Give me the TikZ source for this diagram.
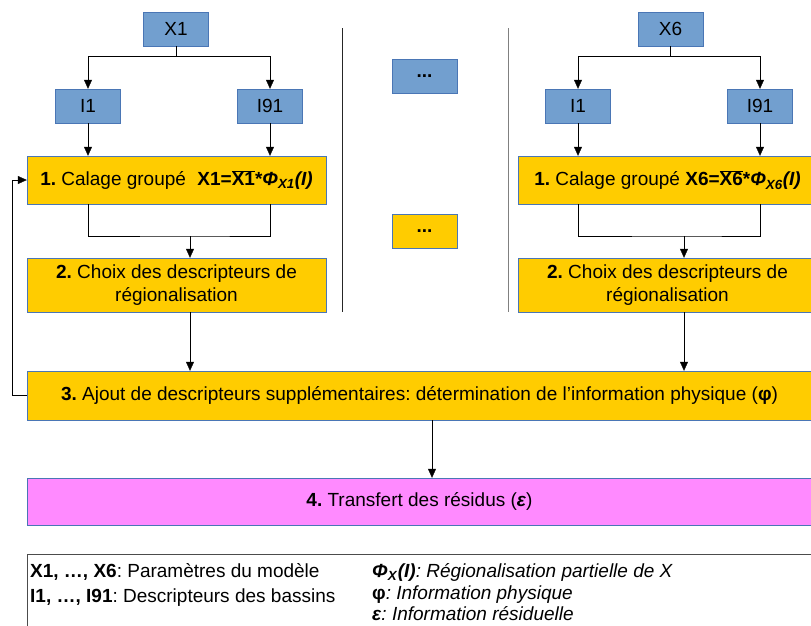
\documentclass[tikz,border=0pt]{standalone}
\usepackage{fontspec}
\setmainfont{Liberation Sans}
\usetikzlibrary{arrows.meta,positioning,calc}
\definecolor{boxblue}{HTML}{729FCF}
\definecolor{boxedge}{HTML}{4A76B5}
\definecolor{boxyellow}{HTML}{FFCC00}
\definecolor{boxpink}{HTML}{FF8AFF}
\newcommand{\PhiSub}[1]{\textit{Φ}\textsubscript{\textit{#1}}\textit{(I)}}
\frenchspacing

\begin{document}
\begin{tikzpicture}[x=1pt, y=-1pt,
  font=\fontsize{19}{23}\selectfont,
  var/.style={draw=boxedge, fill=boxblue, minimum width=65pt, minimum height=34pt, inner sep=0pt},
  stage/.style={draw=boxedge, fill=boxyellow, align=center, inner sep=0pt},
  wide/.style={stage, minimum width=299pt},
  arr/.style={-{Triangle[length=9pt,width=8pt]}, draw=black},
  legend/.style={anchor=base west, inner sep=0pt}
]
\clip (0,0) rectangle (811,625);

% left column
\node[var] (x1) at (176,29) {X1};
\node[var] (i1a) at (88,106) {I1};
\node[var] (i91a) at (270,106) {I91};
\node[wide, minimum height=48pt] (cal1) at (176.5,180) {\textbf{1.} Calage groupé\hspace{0.6em}\textbf{X1=$\overline{\hbox{X1}}$*\PhiSub{X1}}};
\node[wide, minimum height=54pt] (choix1) at (176.5,285) {\textbf{2.} Choix des descripteurs de\\régionalisation};

% right column
\node[var] (x6) at (670.5,29) {X6};
\node[var] (i1b) at (578,106) {I1};
\node[var] (i91b) at (760,106) {I91};
\node[wide, minimum height=48pt] (cal6) at (667.5,180) {\textbf{1.} Calage groupé \textbf{X6=$\overline{\hbox{X6}}$*\PhiSub{X6}}};
\node[wide, minimum height=54pt] (choix6) at (667.5,285) {\textbf{2.} Choix des descripteurs de\\régionalisation};

% middle
\node[var] (dotsb) at (424.5,76.5) {\textbf{...}};
\node[stage, minimum width=65pt, minimum height=34pt] (dotsy) at (424.5,231) {\textbf{...}};
\draw[black!85] (342,28) -- (342,312);
\draw[black!50] (508,28) -- (508,312);

% common steps
\node[stage, minimum width=785pt, minimum height=49pt] (ajout) at (419.5,395.5) {\textbf{3.} Ajout de descripteurs supplémentaires: détermination de l’information physique (\textbf{φ})};
\node[stage, fill=boxpink, minimum width=785pt, minimum height=47pt] (transfert) at (419.5,501.5) {\textbf{4.} Transfert des résidus (\textbf{\textit{ε}})};

\coordinate (m1) at (190,236);
\coordinate (m6) at (684,236);
\coordinate (m3) at (432,450);

\draw (x1.south) -- ++(0,10) coordinate (x1b);
\draw[arr] (x1b) -| (i1a.north);
\draw[arr] (x1b) -| (i91a.north);
\draw[arr] (i1a) -- (i1a |- cal1.north);
\draw[arr] (i91a) -- (i91a |- cal1.north);
\draw (cal1.south -| i1a) |- (m1) -| (cal1.south -| i91a);
\draw[arr] (m1) -- (choix1.north -| m1);
\draw[arr] (choix1.south -| m1) -- (ajout.north -| m1);

\draw (x6.south) -- ++(0,10) coordinate (x6b);
\draw[arr] (x6b) -| (i1b.north);
\draw[arr] (x6b) -| (i91b.north);
\draw[arr] (i1b) -- (i1b |- cal6.north);
\draw[arr] (i91b) -- (i91b |- cal6.north);
\draw (cal6.south -| i1b) |- (m6) -| (cal6.south -| i91b);
\draw[arr] (m6) -- (choix6.north -| m6);
\draw[arr] (choix6.south -| m6) -- (ajout.north -| m6);

\draw[arr] (ajout.west) -- ++(-15,0) |- (cal1.west);
\draw[arr] (ajout.south -| m3) -- (transfert.north -| m3);

% legend
\draw[black!70] (27,640) -- (27,554) -- (820,554);
\node[legend] (legx) at (30,577) {\textbf{X1, …, X6}: Paramètres du modèle};
\node[legend] (legi) at (30,602) {\textbf{I1, …, I91}: Descripteurs des bassins};
\node[legend] (legphi) at (372,577) {\textbf{\PhiSub{X}}\textit{: Régionalisation partielle de X}};
\node[legend] (legvphi) at (372,599) {\textbf{φ}\textit{: Information physique}};
\node[legend] (legeps) at (372,620) {\textbf{\textit{ε}}\textit{: Information résiduelle}};
\end{tikzpicture}
\end{document}
